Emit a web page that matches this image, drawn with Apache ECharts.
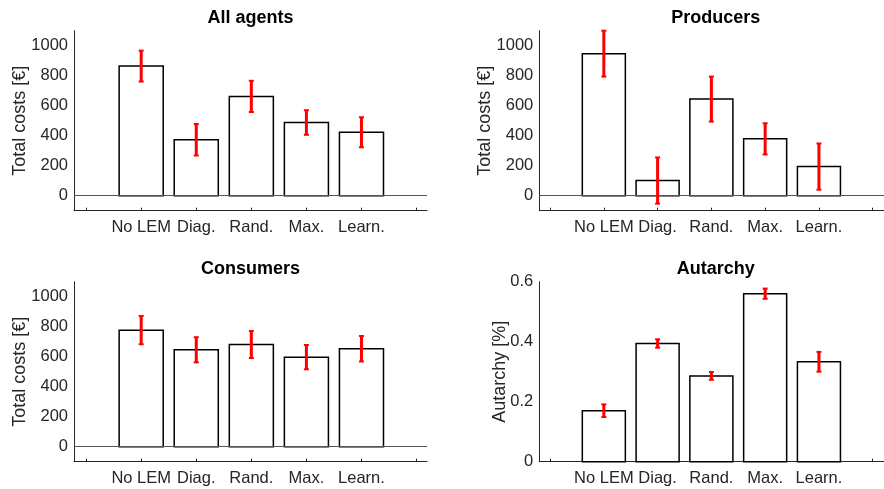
<!DOCTYPE html>
<html>
<head>
<meta charset="utf-8">
<script src="https://cdn.jsdelivr.net/npm/echarts@6/dist/echarts.min.js"></script>
<style>html,body{margin:0;padding:0;background:#fff}#c{width:884px;height:489px}</style>
</head>
<body>
<div id="c"></div>
<script>
const categories = ['No LEM', 'Diag.', 'Rand.', 'Max.', 'Learn.'];
const allMean = [864, 373, 662, 488, 423];
const allErr = [103, 105, 104, 82, 100];
const prodMean = [947, 101, 644, 379, 194];
const prodErr = [153, 154, 150, 104, 154];
const consMean = [777, 646, 681, 597, 653];
const consErr = [94, 84, 90, 81, 85];
const autMean = [0.170, 0.394, 0.286, 0.560, 0.333];
const autErr = [0.021, 0.014, 0.013, 0.017, 0.033];
const costTicks = [0, 200, 400, 600, 800, 1000];
const autTicks = [0, 0.2, 0.4, 0.6];
const xTickPositions = [0, 1, 2, 3, 4, 5, 6];
const xLabelPositions = [1, 2, 3, 4, 5];
const titles = ['All agents', 'Producers', 'Consumers', 'Autarchy'];
const yNames = ['Total costs [€]', 'Total costs [€]', 'Total costs [€]', 'Autarchy [%]'];

const panels = [
  {mean: allMean, err: allErr, ticks: costTicks, ymin: -100, ymax: 1100, zero: true},
  {mean: prodMean, err: prodErr, ticks: costTicks, ymin: -100, ymax: 1100, zero: true},
  {mean: consMean, err: consErr, ticks: costTicks, ymin: -100, ymax: 1100, zero: true},
  {mean: autMean, err: autErr, ticks: autTicks, ymin: 0, ymax: 0.6, zero: false}
];

const FONT = '"Liberation Sans", Arial, Helvetica, sans-serif';
const AX = '#262626';
const gridPos = [
  {left: 74, top: 30.7, xmin: -0.22, xmax: 6.19, nameGap: 45},
  {left: 539.3, top: 30.7, xmin: -0.2, xmax: 6.21, nameGap: 45},
  {left: 74, top: 281.7, xmin: -0.22, xmax: 6.19, nameGap: 45},
  {left: 539.3, top: 281.7, xmin: -0.2, xmax: 6.21, nameGap: 30}
];
const GW = 353, GH = 180;

const grid = [], xAxis = [], yAxis = [], series = [], title = [];
panels.forEach((p, i) => {
  const g = gridPos[i];
  grid.push({left: g.left, top: g.top, width: GW, height: GH, containLabel: false});
  title.push({
    text: titles[i], left: g.left + GW / 2, top: g.top - 22, textAlign: 'center', padding: 0,
    textStyle: {fontFamily: FONT, fontSize: 18, fontWeight: 'bold', color: '#000'}
  });
  xAxis.push({
    type: 'value', gridIndex: i, min: g.xmin, max: g.xmax,
    splitLine: {show: false},
    axisLine: {show: true, onZero: false, lineStyle: {color: AX, width: 1}},
    axisTick: {show: true, inside: true, length: 3, customValues: xTickPositions, lineStyle: {color: AX}},
    axisLabel: {
      customValues: xLabelPositions, margin: 8, color: AX, fontFamily: FONT, fontSize: 16.5,
      formatter: v => categories[Math.round(v) - 1] || ''
    }
  });
  yAxis.push({
    type: 'value', gridIndex: i, min: p.ymin, max: p.ymax,
    name: yNames[i], nameLocation: 'middle', nameRotate: 90, nameGap: g.nameGap,
    nameMoveOverlap: false,
    nameTextStyle: {color: AX, fontFamily: FONT, fontSize: 18},
    splitLine: {show: false},
    axisLine: {show: true, onZero: false, lineStyle: {color: AX, width: 1}},
    axisTick: {show: false, customValues: p.ticks},
    axisLabel: {customValues: p.ticks, margin: 6, color: AX, fontFamily: FONT, fontSize: 16.5,
      formatter: v => String(+v.toFixed(4))}
  });
  const barData = p.mean.map((m, k) => [k + 1, m]);
  const errData = p.mean.map((m, k) => [k + 1, m - p.err[k], m + p.err[k]]);
  series.push({
    type: 'custom', xAxisIndex: i, yAxisIndex: i, silent: true, clip: false, z: 2,
    data: barData,
    encode: {x: 0, y: 1},
    renderItem: (params, api) => {
      const x = api.value(0), y = api.value(1);
      const a = api.coord([x - 0.4, y]);
      const b = api.coord([x + 0.4, 0]);
      return {type: 'rect', shape: {x: a[0], y: Math.min(a[1], b[1]), width: b[0] - a[0], height: Math.abs(b[1] - a[1])},
        style: {fill: '#fff', stroke: '#000', lineWidth: 1.5}};
    },
    markLine: p.zero ? {
      silent: true, symbol: 'none', label: {show: false},
      lineStyle: {color: '#555', width: 1, type: 'solid'},
      data: [{yAxis: 0}]
    } : undefined
  });
  series.push({
    type: 'custom', xAxisIndex: i, yAxisIndex: i, silent: true, clip: false, z: 5,
    data: errData,
    encode: {x: 0, y: [1, 2]},
    renderItem: (params, api) => {
      const x = api.value(0);
      const lo = api.coord([x, api.value(1)]);
      const hi = api.coord([x, api.value(2)]);
      const cw = 2.5;
      const st = {stroke: '#ff0000', lineWidth: 3};
      return {type: 'group', children: [
        {type: 'line', shape: {x1: lo[0], y1: lo[1], x2: hi[0], y2: hi[1]}, style: st},
        {type: 'line', shape: {x1: lo[0] - cw, y1: lo[1], x2: lo[0] + cw, y2: lo[1]}, style: {stroke: '#ff0000', lineWidth: 2}},
        {type: 'line', shape: {x1: hi[0] - cw, y1: hi[1], x2: hi[0] + cw, y2: hi[1]}, style: {stroke: '#ff0000', lineWidth: 2}}
      ]};
    }
  });
});

const chart = echarts.init(document.getElementById('c'), null, {renderer: 'canvas'});
chart.setOption({animation: false, backgroundColor: '#fff', title, grid, xAxis, yAxis, series});
</script>
</body>
</html>
